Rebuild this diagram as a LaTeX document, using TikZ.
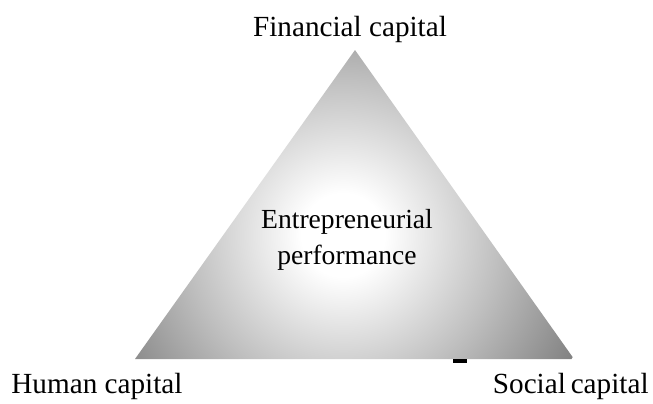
\documentclass[tikz,border=0pt]{standalone}
\usepackage{fontspec}
\setmainfont{Liberation Serif}
\usetikzlibrary{positioning}
\pgfdeclareradialshading{capglow}{\pgfpoint{0bp}{0bp}}{%
  color(0bp)=(white); color(4bp)=(white); color(15bp)=(gray!50!white);
  color(26bp)=(gray!97!black); color(50bp)=(gray!97!black)}

\begin{document}
\begin{tikzpicture}[x=0.5pt,y=-0.5pt,
    lbl/.style={inner sep=0pt,font=\fontsize{14.6}{16}\selectfont},
    centre/.style={lbl,align=center,font=\fontsize{13.8}{18}\selectfont}]
  \useasboundingbox (0,0) rectangle (653,403);
  % corners of the capital triangle
  \coordinate (top) at (355,50);
  \coordinate (left) at (135,359);
  \coordinate (right) at (574,359);
  \begin{scope}
    \clip (top) -- (right) -- (left) -- cycle;
    \shade[shading=capglow] (343,235) circle (260);
  \end{scope}
  \fill[black] (453,359) rectangle (467,363);
  % labels
  \node[lbl,anchor=base] (fin) at (350,36) {Financial capital};
  \node[lbl,anchor=base west] (hum) at (11,393) {Human capital};
  \node[lbl,anchor=base east] (soc) at (649,393) {Social\,capital};
  \node[centre] (perf) at (347,240) {Entrepreneurial\\performance};
\end{tikzpicture}
\end{document}
